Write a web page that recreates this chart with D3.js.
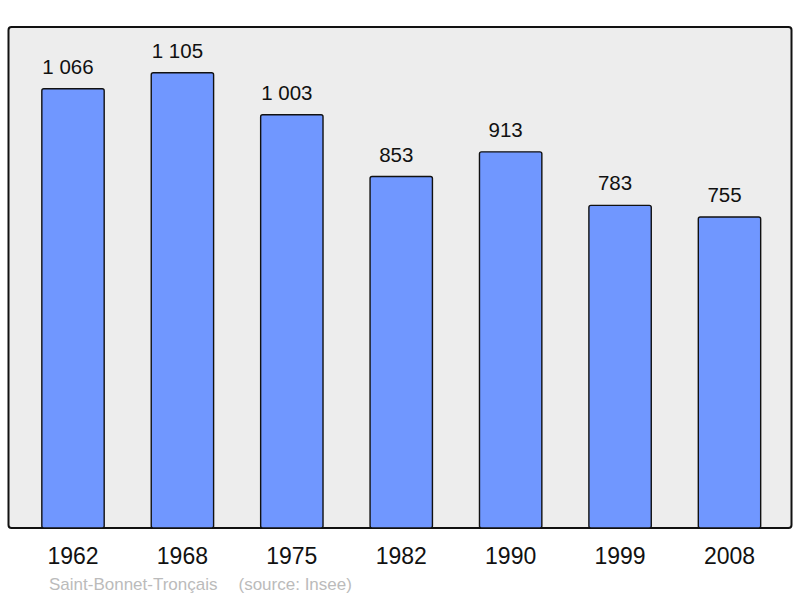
<!DOCTYPE html>
<html><head><meta charset="utf-8">
<script src="https://cdn.jsdelivr.net/npm/d3@7"></script>
<style>html,body{margin:0;padding:0;background:#fff;}svg{display:block;}</style>
</head><body>
<script>
const years = ["1962","1968","1975","1982","1990","1999","2008"];
const population = [1066, 1105, 1003, 853, 913, 783, 755];
const place = "Saint-Bonnet-Tronçais";
const source = "(source: Insee)";

const W = 800, H = 598;
const panel = {x0: 8.5, y0: 27, x1: 791.5, y1: 528};
const svg = d3.select("body").append("svg").attr("width", W).attr("height", H);
const font = "'Liberation Sans', Arial, sans-serif";

svg.append("rect").attr("x", panel.x0).attr("y", panel.y0)
  .attr("width", panel.x1 - panel.x0).attr("height", panel.y1 - panel.y0)
  .attr("rx", 3).attr("fill", "#ededed").attr("stroke", "#111").attr("stroke-width", 2);

const x = d3.scaleBand().domain(years).range([18.3, 784.2]).paddingInner(0.43).paddingOuter(0.215);
const y = d3.scaleLinear().domain([0, 1216]).range([528, 27]);

const data = years.map((yr, i) => ({yr, v: population[i]}));

svg.append("g").selectAll("rect").data(data).join("rect")
  .attr("x", d => x(d.yr)).attr("y", d => y(d.v))
  .attr("width", x.bandwidth()).attr("height", d => y(0) - y(d.v))
  .attr("rx", 2).attr("fill", "#7097ff").attr("stroke", "#111").attr("stroke-width", 1.4);

const fmt = v => d3.format(",")(v).replace(/,/g, " ");
svg.append("g").selectAll("text").data(data).join("text")
  .attr("x", d => x(d.yr) + x.bandwidth() / 2 - 5).attr("y", d => y(d.v) - 15)
  .attr("text-anchor", "middle").attr("font-family", font).attr("font-size", 20.5)
  .attr("fill", "#111").text(d => fmt(d.v));

svg.append("g").selectAll("text").data(years).join("text")
  .attr("x", d => x(d) + x.bandwidth() / 2).attr("y", 564)
  .attr("text-anchor", "middle").attr("font-family", font).attr("font-size", 23)
  .attr("fill", "#111").text(d => d);

svg.append("text").attr("x", 49).attr("y", 590).attr("font-family", font).attr("font-size", 17)
  .attr("fill", "#bbb").text(place);
svg.append("text").attr("x", 238.5).attr("y", 590).attr("font-family", font).attr("font-size", 17)
  .attr("fill", "#bbb").text(source);
</script>
</body></html>
